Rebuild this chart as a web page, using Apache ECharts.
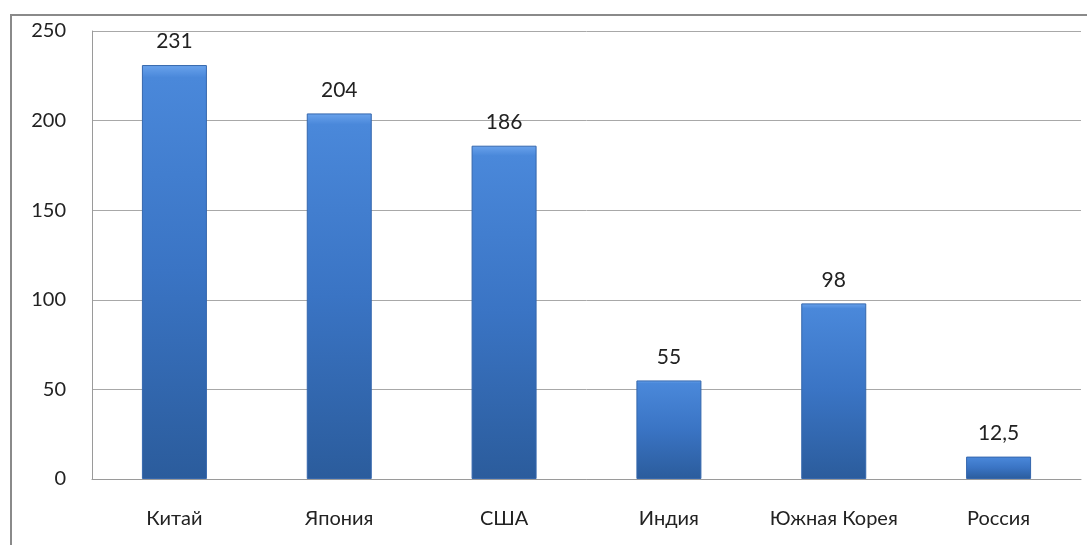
<!DOCTYPE html>
<html><head><meta charset="utf-8">
<script src="https://cdn.jsdelivr.net/npm/echarts@6/dist/echarts.min.js"></script>
<style>html,body{margin:0;padding:0;background:#fff}#c{width:1087px;height:545px}</style>
</head><body><div id="c"></div>
<script>
const categories = ['Китай','Япония','США','Индия','Южная Корея','Россия'];
const values = [231, 204, 186, 55, 98, 12.5];
const yTicks = [0, 50, 100, 150, 200, 250];

const chart = echarts.init(document.getElementById('c'));
chart.setOption({
  animation: false,
  textStyle: {fontFamily: 'Lato, "Open Sans", sans-serif'},
  graphic: [{
    type: 'rect', shape: {x: 11, y: 15, width: 1200, height: 700},
    style: {fill: 'none', stroke: '#8a8a8a', lineWidth: 2}, z: -1
  }],
  grid: {left: 92, top: 31, right: 6, bottom: 66},
  xAxis: {
    type: 'category', data: categories,
    axisTick: {show: false},
    axisLine: {lineStyle: {color: '#9a9a9a'}},
    axisLabel: {color: '#222', fontSize: 20, margin: 30, interval: 0, hideOverlap: false}
  },
  yAxis: {
    type: 'value', min: 0, max: 250, interval: 50,
    axisLine: {show: true, lineStyle: {color: '#9a9a9a'}},
    axisTick: {show: false},
    axisLabel: {color: '#222', fontSize: 20, margin: 26, formatter: v => yTicks.includes(v) ? String(v) : ''},
    splitLine: {lineStyle: {color: '#a8a8a8'}}
  },
  series: [{
    type: 'bar', data: values, barWidth: 65,
    itemStyle: {
      color: new echarts.graphic.LinearGradient(0, 0, 0, 1, [
        {offset: 0, color: '#6aa3ec'},
        {offset: 0.03, color: '#4a88da'},
        {offset: 0.5, color: '#3a74c4'},
        {offset: 1, color: '#2b5c9c'}
      ]),
      borderColor: '#3567ad', borderWidth: 1
    },
    label: {
      show: true, position: 'top', distance: 13, color: '#222', fontSize: 21,
      formatter: p => String(p.value).replace('.', ',')
    }
  }]
});
</script></body></html>
